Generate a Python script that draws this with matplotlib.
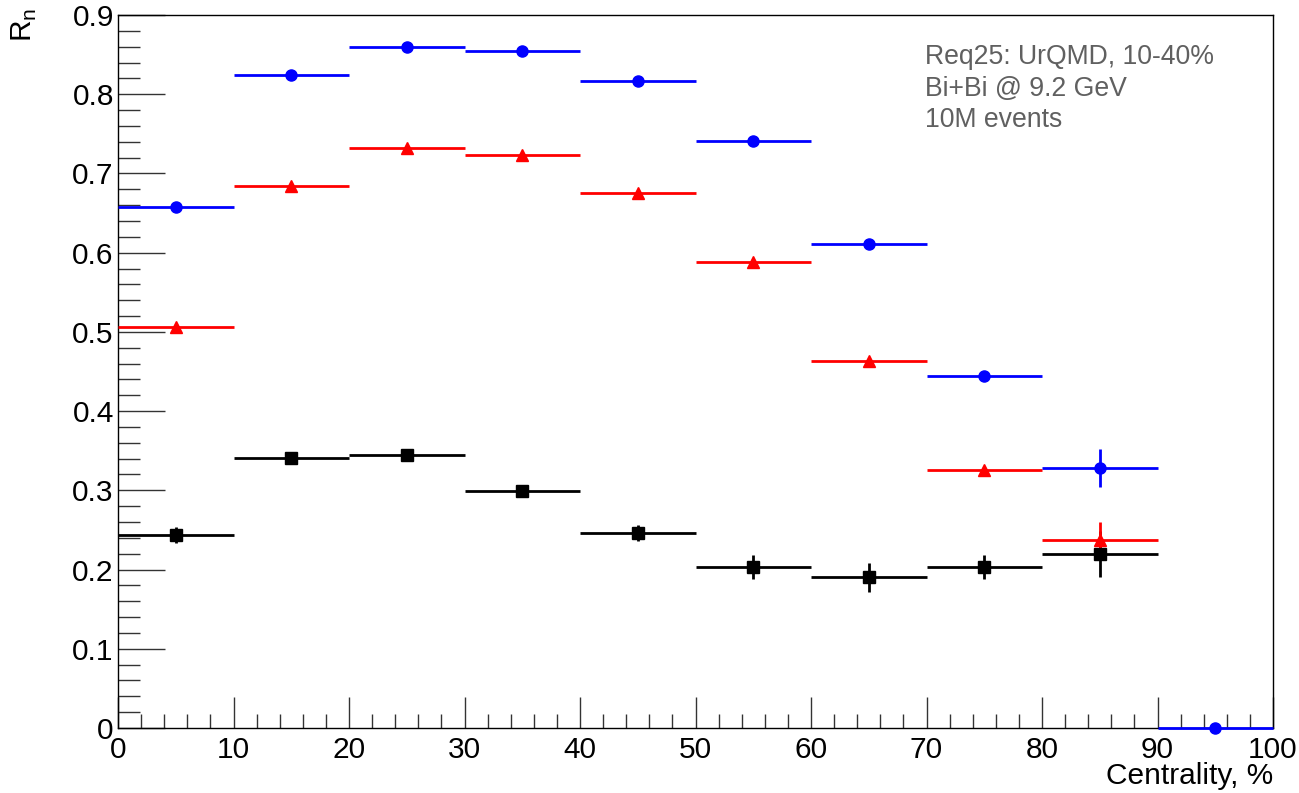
import matplotlib
matplotlib.use("Agg")
import matplotlib.pyplot as plt
from matplotlib.ticker import MultipleLocator, FuncFormatter

plt.rcParams['font.family'] = ['Liberation Sans', 'DejaVu Sans']

# Data
bin_centers = [5, 15, 25, 35, 45, 55, 65, 75, 85, 95]
bin_half_width = [5] * 10

blue_vals = [0.658, 0.824, 0.860, 0.855, 0.817, 0.741, 0.611, 0.444, 0.328, 0.0]
blue_errs = [0.003, 0.003, 0.003, 0.003, 0.003, 0.004, 0.004, 0.005, 0.024, 0.0]

red_vals = [0.506, 0.684, 0.732, 0.723, 0.675, 0.588, 0.463, 0.326, 0.237]
red_errs = [0.003, 0.003, 0.003, 0.003, 0.003, 0.004, 0.004, 0.005, 0.023]

black_vals = [0.244, 0.341, 0.345, 0.299, 0.246, 0.203, 0.190, 0.203, 0.220]
black_errs = [0.010, 0.005, 0.005, 0.005, 0.010, 0.015, 0.018, 0.015, 0.029]

annotation_lines = ["Req25: UrQMD, 10-40%", "Bi+Bi @ 9.2 GeV", "10M events"]

fig = plt.figure(figsize=(12.99, 7.93), dpi=100)
ax = fig.add_axes([118/1299, 1 - 728/793, (1273-118)/1299, (728-15)/793])

series = [
    (black_vals, black_errs, 's', 'black', 8.5),
    (red_vals, red_errs, '^', '#ff0000', 8),
    (blue_vals, blue_errs, 'o', '#0000ff', 8),
]
for vals, errs, mk, col, ms in series:
    n = len(vals)
    ax.errorbar(bin_centers[:n], vals, xerr=bin_half_width[:n], yerr=errs, fmt=mk,
                color=col, ecolor=col, elinewidth=2, markersize=ms,
                capsize=0, clip_on=False, zorder=3)

ax.set_xlim(0, 100)
ax.set_ylim(0, 0.9)

ax.xaxis.set_major_locator(MultipleLocator(10))
ax.xaxis.set_minor_locator(MultipleLocator(2))
ax.yaxis.set_major_locator(MultipleLocator(0.1))
ax.yaxis.set_minor_locator(MultipleLocator(0.02))

def yfmt(v, pos):
    if abs(v) < 1e-9:
        return "0"
    return f"{v:.1f}"
ax.yaxis.set_major_formatter(FuncFormatter(yfmt))
ax.xaxis.set_major_formatter(FuncFormatter(lambda v, p: f"{int(round(v))}"))

ax.tick_params(axis='both', which='both', direction='in', top=False, right=False,
               labelsize=21.5, colors='#333333', labelcolor='black')
ax.tick_params(axis='y', which='major', length=34, width=1, pad=3)
ax.tick_params(axis='y', which='minor', length=16, width=1)
ax.tick_params(axis='x', which='major', length=22, width=1, pad=6)
ax.tick_params(axis='x', which='minor', length=10, width=1)

for s in ax.spines.values():
    s.set_linewidth(1)
    s.set_color('black')

fig.text(1273/1299, 1 - 776/793, "Centrality, %", ha='right', va='center', fontsize=21.5)
fig.text(24/1299, 1 - 8/793, r"R$_\mathregular{n}$", ha='center', va='top',
         rotation=90, fontsize=21.5)

for i, line in enumerate(annotation_lines):
    fig.text(925/1299, 1 - (57 + 31.5*i)/793, line, ha='left', va='center',
             fontsize=19.2, color='#606060')

fig.savefig("out.png", dpi=100)
